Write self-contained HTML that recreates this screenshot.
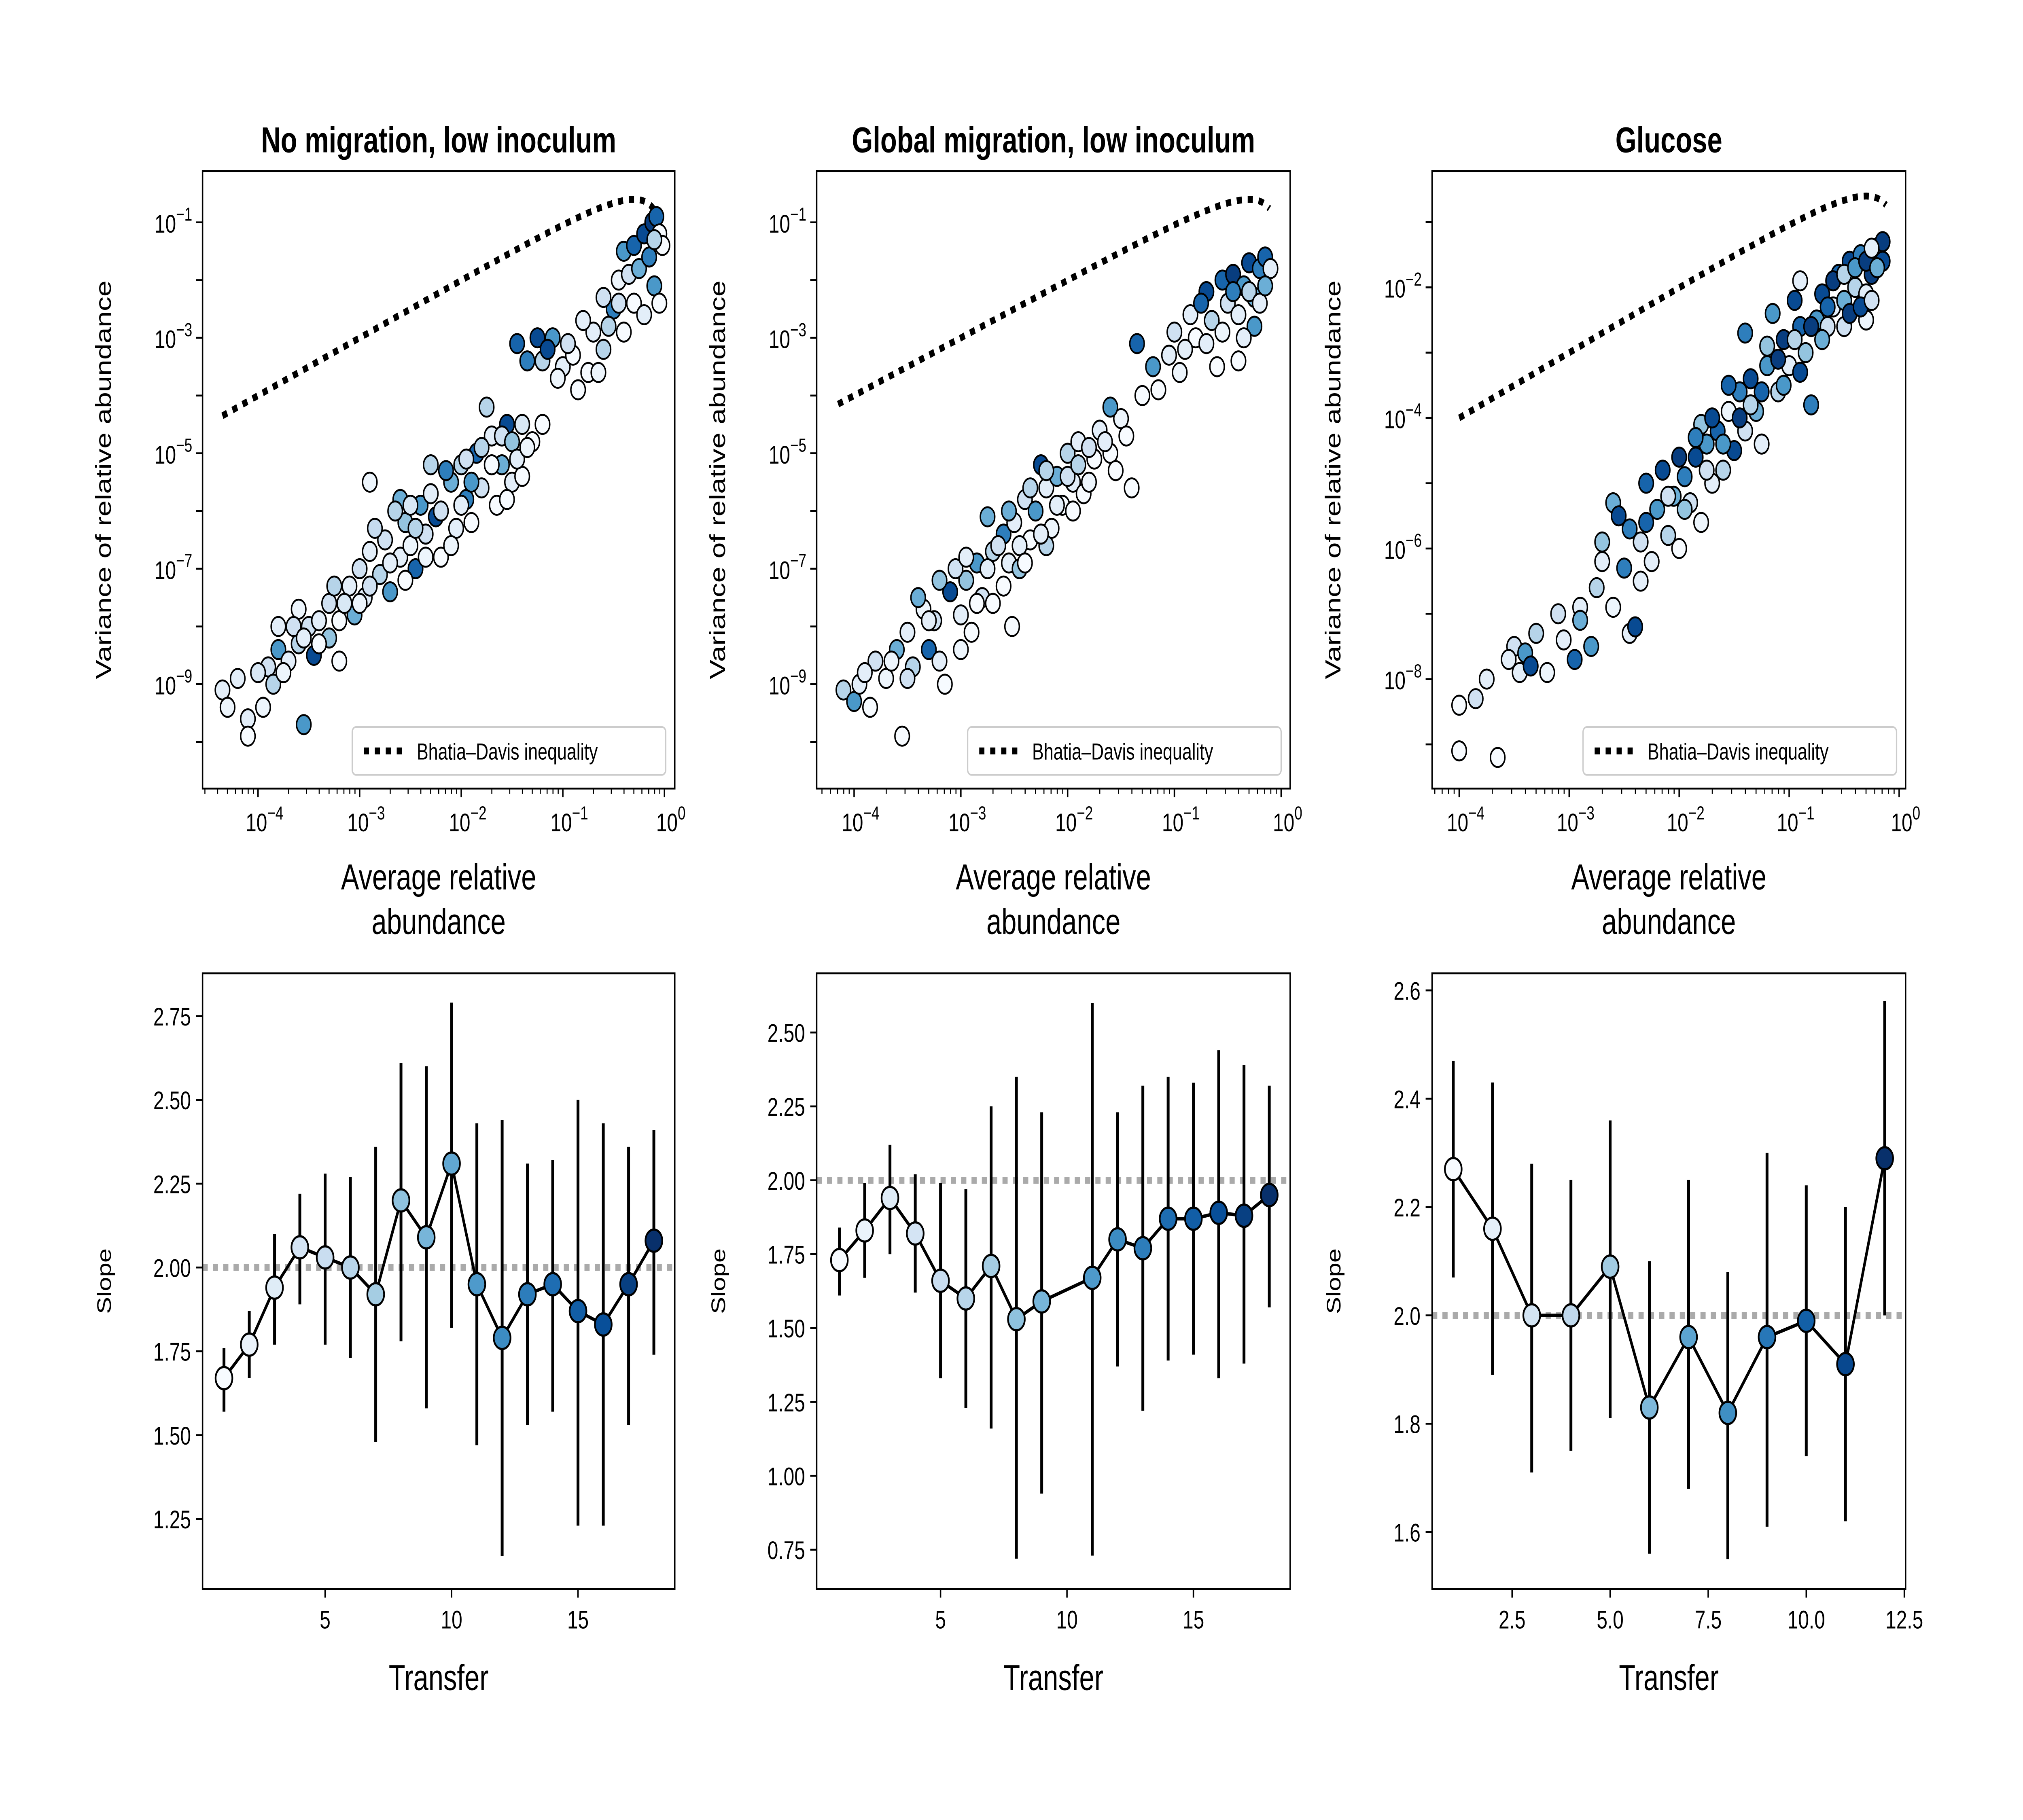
<!DOCTYPE html>
<html><head><meta charset="utf-8">
<style>
html,body{margin:0;padding:0;background:#fff;width:100%;height:100%;overflow:hidden;}
svg{display:block;width:100vw;height:100vh;font-family:"Liberation Sans","DejaVu Sans",sans-serif;}
</style></head>
<body>
<svg id="fig" xmlns="http://www.w3.org/2000/svg" viewBox="0 0 1568 1064" preserveAspectRatio="none">
<rect width="1568" height="1064" fill="#fff"/>
</svg>
<script>
// ---------- DATA ----------
const scatter1 = [[-4.35,-9.1,.1],[-4.3,-9.4,.05],[-4.1,-9.6,.1],[-4.1,-9.9,0],[-3.95,-9.4,.05],[-3.9,-8.7,.2],[-3.85,-9.0,.3],[-3.8,-8.4,.6],[-3.7,-8.6,.1],[-3.6,-8.3,.3],[-3.55,-9.7,.6],[-3.5,-8.0,.2],[-3.45,-8.5,.9],[-3.4,-7.9,.1],[-3.3,-8.2,.4],[-3.3,-7.6,.2],[-3.2,-7.9,0],[-3.1,-7.3,.1],[-3.05,-7.8,.5],[-3.0,-7.0,.2],[-2.95,-7.5,.1],[-2.9,-6.7,.1],[-2.8,-7.1,.3],[-2.75,-6.5,.2],[-2.7,-7.4,.6],[-2.6,-6.8,.1],[-2.55,-6.2,.4],[-2.5,-6.6,.05],[-2.45,-7.0,.8],[-2.4,-5.9,.6],[-2.35,-6.4,.2],[-2.3,-5.7,.1],[-2.25,-6.1,.9],[-2.2,-6.8,0],[-2.1,-5.5,.5],[-2.05,-6.3,.1],[-2.0,-5.2,.3],[-1.95,-5.8,.7],[-1.9,-6.2,0],[-1.85,-5.0,.8],[-1.8,-5.6,.2],[-1.7,-4.7,.1],[-1.65,-5.9,0],[-1.6,-5.2,.5],[-1.55,-4.5,.9],[-1.5,-5.5,.1],[-1.4,-5.4,0],[-1.3,-4.8,0],[-1.45,-3.1,.8],[-1.35,-3.4,.7],[-1.25,-3.0,.9],[-1.2,-3.4,.3],[-1.1,-3.0,.6],[-1.0,-3.5,.1],[-0.9,-3.3,0],[-0.75,-3.6,0],[-0.7,-2.9,.1],[-0.6,-3.2,.3],[-0.5,-2.5,.7],[-0.45,-2.0,.05],[-0.4,-1.5,.6],[-0.35,-1.9,.2],[-0.3,-1.4,.8],[-0.25,-1.8,.5],[-0.2,-1.2,.9],[-0.3,-2.4,0],[-0.2,-2.6,.1],[-0.1,-2.1,.6],[-0.12,-1.0,.95],[-0.08,-0.9,.8],[-0.05,-1.2,0],[-0.02,-1.4,0],[-0.05,-2.4,0],[-0.6,-2.3,.2],[-0.8,-2.7,.1],[-2.9,-5.5,.05],[-2.3,-5.2,.3],[-1.75,-4.2,.3],[-2.6,-5.8,.5],[-3.6,-7.7,.05],
 [-4.2,-8.9,.1],[-4.0,-8.8,.15],[-3.75,-8.8,.05],[-3.65,-8.0,.2],[-3.55,-8.2,.1],[-3.4,-8.3,0],[-3.25,-7.3,.3],[-3.15,-7.6,.15],[-3.0,-7.6,.05],[-2.9,-7.3,.2],[-2.85,-6.3,.25],[-2.7,-6.9,.1],[-2.65,-6.0,.3],[-2.5,-5.9,.15],[-2.45,-6.3,.3],[-2.35,-6.8,.05],[-2.2,-6.0,.2],[-2.15,-5.3,.7],[-2.0,-5.9,.1],[-1.95,-5.1,.2],[-1.9,-5.5,.6],[-1.8,-4.9,.3],[-1.7,-5.2,0],[-1.6,-4.7,.2],[-1.5,-4.8,.4],[-1.45,-5.1,.1],[-1.4,-4.5,.15],[-1.35,-4.9,.05],[-1.2,-4.5,0],[-1.15,-3.2,.9],[-1.05,-3.7,.05],[-0.95,-3.1,.2],[-0.85,-3.9,0],[-0.65,-3.6,.05],[-0.55,-2.8,.3],[-0.45,-2.4,.2],[-0.4,-2.9,0],[-0.15,-1.6,.7],[-0.1,-1.3,.3],[-3.8,-8.0,.1],[-3.2,-8.6,0],[-2.55,-7.2,0],[-2.1,-6.6,.05],[-1.55,-5.8,0]];
const scatter2 = [[-4.1,-9.1,.3],[-4.0,-9.3,.6],[-3.95,-9.0,.1],[-3.85,-9.4,0],[-3.8,-8.6,.2],[-3.7,-8.9,.05],[-3.6,-8.4,.5],[-3.55,-9.9,0],[-3.5,-8.1,.1],[-3.45,-8.7,.3],[-3.35,-7.7,.05],[-3.3,-8.4,.8],[-3.25,-7.9,.2],[-3.15,-9.0,0],[-3.1,-7.4,.9],[-3.0,-7.8,.1],[-2.95,-7.2,.4],[-2.9,-8.1,0],[-2.85,-6.9,.6],[-2.8,-7.5,.2],[-2.75,-6.1,.5],[-2.7,-6.7,.3],[-2.6,-7.3,0],[-2.6,-6.4,.7],[-2.55,-6.9,.1],[-2.5,-6.2,.1],[-2.45,-7.0,.4],[-2.4,-5.8,.2],[-2.35,-6.5,0],[-2.3,-6.0,.6],[-2.25,-5.2,.9],[-2.2,-5.6,.1],[-2.15,-6.3,.05],[-2.1,-5.4,.5],[-2.05,-5.9,0],[-2.0,-5.0,.3],[-1.95,-5.5,.1],[-1.9,-4.8,.1],[-1.85,-5.7,0],[-1.75,-5.1,0],[-1.7,-4.6,.1],[-1.6,-5.0,0],[-1.5,-4.4,.05],[-2.52,-8.0,0],[-1.35,-3.1,.8],[-1.2,-3.5,.6],[-1.05,-3.3,.1],[-0.95,-3.6,.05],[-0.85,-2.6,.1],[-0.8,-3.0,0],[-0.7,-2.2,.9],[-0.65,-2.7,.3],[-0.6,-3.5,0],[-0.55,-2.0,.8],[-0.5,-2.4,.2],[-0.45,-1.9,.95],[-0.4,-2.6,.1],[-0.35,-2.1,.6],[-0.3,-1.7,.9],[-0.25,-2.3,.5],[-0.2,-1.8,.7],[-0.15,-1.6,.8],[-0.1,-1.8,.1],[-0.25,-2.8,.6],[-0.4,-3.4,0],[-1.6,-4.2,.6],[-2.2,-6.6,.3],[-1.3,-4.0,0],[-3.2,-8.6,.1],
 [-3.9,-8.8,.1],[-3.65,-8.6,.05],[-3.5,-8.9,.2],[-3.4,-7.5,.5],[-3.3,-7.9,.1],[-3.2,-7.2,.4],[-3.05,-7.0,.2],[-2.95,-6.8,.1],[-2.85,-7.6,0],[-2.75,-7.0,.1],[-2.65,-6.6,.2],[-2.55,-6.0,.5],[-2.45,-6.6,.1],[-2.4,-6.9,0],[-2.35,-5.6,.3],[-2.25,-6.4,.1],[-2.2,-5.3,.3],[-2.1,-5.9,.1],[-2.0,-5.4,.2],[-1.95,-6.0,0],[-1.9,-5.2,.3],[-1.8,-4.9,.2],[-1.8,-5.5,.05],[-1.65,-4.8,.1],[-1.55,-5.3,0],[-1.45,-4.7,0],[-1.4,-5.6,0],[-1.15,-3.9,0],[-1.0,-2.9,.2],[-0.9,-3.2,.1],[-0.75,-2.4,.8],[-0.7,-3.1,.1],[-0.55,-2.9,.05],[-0.35,-3.0,.1],[-0.3,-2.2,.3],[-0.2,-2.4,.1],[-0.45,-2.2,.7],[-0.15,-2.1,.5],[-3.0,-8.4,.05],[-2.7,-7.6,0]];
const scatter3 = [[-4.0,-8.4,0],[-4.0,-9.1,0],[-3.85,-8.3,.2],[-3.75,-8.0,.1],[-3.65,-9.2,0],[-3.5,-7.5,.2],[-3.45,-7.9,.1],[-3.4,-7.6,.6],[-3.35,-7.8,.9],[-3.3,-7.3,.3],[-3.2,-7.9,.05],[-3.05,-7.4,.1],[-2.95,-7.7,.8],[-2.9,-6.9,.1],[-2.8,-7.5,.6],[-2.75,-6.6,.3],[-2.7,-6.2,.1],[-2.6,-6.9,.05],[-2.5,-6.3,.7],[-2.45,-7.3,.1],[-2.4,-7.2,.9],[-2.35,-5.9,.2],[-2.3,-5.6,.8],[-2.25,-6.2,.1],[-2.2,-5.4,.6],[-2.1,-5.8,.3],[-2.05,-5.2,.5],[-2.0,-6.0,0],[-1.95,-4.9,.7],[-1.9,-5.3,.2],[-1.85,-4.6,.9],[-1.8,-5.6,.05],[-1.75,-4.4,.6],[-1.7,-5.0,.1],[-1.65,-4.2,.8],[-1.6,-4.8,.3],[-1.55,-3.9,.05],[-1.5,-4.5,.9],[-1.45,-3.6,.7],[-1.4,-4.2,.2],[-1.35,-3.4,.9],[-1.3,-3.9,.5],[-1.25,-4.4,.1],[-1.2,-3.2,.6],[-1.1,-3.6,.3],[-1.05,-2.8,.95],[-1.0,-3.2,.1],[-0.9,-2.6,.8],[-0.85,-3.0,.4],[-0.8,-3.8,.7],[-0.75,-2.5,.6],[-0.7,-2.1,.9],[-0.65,-2.6,.2],[-0.6,-2.3,.1],[-0.55,-1.8,.8],[-0.5,-2.2,.5],[-0.45,-1.6,.9],[-0.4,-2.0,.3],[-0.35,-1.5,.7],[-0.3,-2.1,.1],[-0.25,-1.8,.95],[-0.2,-1.4,.8],[-0.15,-1.6,.9],[-0.5,-2.6,.2],[-0.9,-1.9,.1],[-1.4,-2.7,.7],[-0.3,-2.5,.05],[-1.8,-4.1,.4],[-2.6,-5.3,.5],
 [-2.55,-5.5,.9],[-2.45,-5.7,.7],[-2.3,-5.0,.8],[-2.15,-4.8,.9],[-2.1,-5.2,.2],[-2.0,-4.6,.95],[-1.95,-5.4,.4],[-1.85,-4.3,.7],[-1.75,-4.8,.2],[-1.7,-4.0,.9],[-1.6,-4.4,.6],[-1.55,-3.5,.8],[-1.45,-4.0,.95],[-1.35,-3.8,.3],[-1.25,-3.6,.8],[-1.2,-2.9,.4],[-1.1,-3.1,.95],[-1.05,-3.5,.6],[-0.95,-2.8,.3],[-0.9,-3.3,.9],[-0.8,-2.6,.95],[-0.7,-2.8,.5],[-0.65,-2.3,.8],[-0.6,-1.9,.95],[-0.5,-1.8,.3],[-0.45,-2.4,.95],[-0.4,-1.7,.6],[-0.35,-2.3,.9],[-0.3,-1.6,.95],[-0.25,-2.2,.2],[-0.2,-1.7,.5],[-0.15,-1.3,.95],[-0.25,-1.4,.1],[-1.15,-2.4,.6],[-0.95,-2.2,.9],[-2.35,-6.5,.1],[-2.9,-7.1,.5],[-3.1,-7.0,.2],[-2.7,-5.9,.4],[-3.55,-7.7,.1]];

const transfers1 = [1,2,3,4,5,6,7,8,9,10,11,12,13,14,15,16,17,18];
const slope1 = [1.67,1.77,1.94,2.06,2.03,2.00,1.92,2.20,2.09,2.31,1.95,1.79,1.92,1.95,1.87,1.83,1.95,2.08];
const lo1 = [1.57,1.67,1.77,1.89,1.77,1.73,1.48,1.78,1.58,1.82,1.47,1.14,1.53,1.57,1.23,1.23,1.53,1.74];
const hi1 = [1.76,1.87,2.10,2.22,2.28,2.27,2.36,2.61,2.60,2.79,2.43,2.44,2.31,2.32,2.50,2.43,2.36,2.41];
const transfers2 = [1,2,3,4,5,6,7,8,9,11,12,13,14,15,16,17,18];
const slope2 = [1.73,1.83,1.94,1.82,1.66,1.60,1.71,1.53,1.59,1.67,1.80,1.77,1.87,1.87,1.89,1.88,1.95];
const lo2 = [1.61,1.67,1.75,1.62,1.33,1.23,1.16,0.72,0.94,0.73,1.37,1.22,1.39,1.41,1.33,1.38,1.57];
const hi2 = [1.84,1.99,2.12,2.02,1.99,1.97,2.25,2.35,2.23,2.60,2.23,2.32,2.35,2.33,2.44,2.39,2.32];
const transfers3 = [1,2,3,4,5,6,7,8,9,10,11,12];
const slope3 = [2.27,2.16,2.00,2.00,2.09,1.83,1.96,1.82,1.96,1.99,1.91,2.29];
const lo3 = [2.07,1.89,1.71,1.75,1.81,1.56,1.68,1.55,1.61,1.74,1.62,2.00];
const hi3 = [2.47,2.43,2.28,2.25,2.36,2.10,2.25,2.08,2.30,2.24,2.20,2.58];

const titles = ["No migration, low inoculum","Global migration, low inoculum","Glucose"];
const yTicks3 = [1.6,1.8,2.0,2.2,2.4,2.6];
const yTicks1 = [1.25,1.50,1.75,2.00,2.25,2.50,2.75];
const yTicks2 = [0.75,1.00,1.25,1.50,1.75,2.00,2.25,2.50];

// ---------- HELPERS ----------
const NS="http://www.w3.org/2000/svg";
const svg=document.getElementById('fig');
function mk(tag,attrs,parent){const e=document.createElementNS(NS,tag);for(const k in attrs)e.setAttribute(k,attrs[k]);(parent||svg).appendChild(e);return e;}
const stops=[[247,251,255],[222,235,247],[198,219,239],[158,202,225],[107,174,214],[66,146,198],[33,113,181],[8,81,156],[8,48,107]];
function blues(t){t=Math.max(0,Math.min(1,t));const p=t*8,i=Math.min(7,Math.floor(p)),f=p-i;const a=stops[i],b=stops[i+1];return `rgb(${Math.round(a[0]+(b[0]-a[0])*f)},${Math.round(a[1]+(b[1]-a[1])*f)},${Math.round(a[2]+(b[2]-a[2])*f)})`;}
function txt(x,y,s,size,anchor,parent,extra){const t=mk('text',Object.assign({x:x,y:y,'font-size':size,'text-anchor':anchor||'middle',fill:'#000'},extra||{}),parent);t.textContent=s;return t;}
function powLabel(x,y,exp,anchor,parent){const t=mk('text',{x:x,y:y,'font-size':15,'text-anchor':anchor,fill:'#000'},parent);t.appendChild(document.createTextNode('10'));const sp=mk('tspan',{dy:-7,'font-size':11},t);sp.textContent=String(exp).replace('-','\u2212');return t;}

// ---------- TOP PANELS ----------
const topPanels=[
 {x0:157,x1:523,xa:200,xb:515,xmin:-4.55,xmax:0.1,ya:130,yb:400,ea:-1,eb:-9,yTickExps:[-10,-9,-8,-7,-6,-5,-4,-3,-2,-1],yLabelExps:[-9,-7,-5,-3,-1],data:scatter1,bdStart:-4.35},
 {x0:633,x1:1000,xa:662,xb:993,xmin:-4.35,xmax:0.08,ya:130,yb:400,ea:-1,eb:-9,yTickExps:[-10,-9,-8,-7,-6,-5,-4,-3,-2,-1],yLabelExps:[-9,-7,-5,-3,-1],data:scatter2,bdStart:-4.15},
 {x0:1110,x1:1477,xa:1131,xb:1472,xmin:-4.25,xmax:0.07,ya:168,yb:397,ea:-2,eb:-8,yTickExps:[-9,-8,-7,-6,-5,-4,-3,-2,-1],yLabelExps:[-8,-6,-4,-2],data:scatter3,bdStart:-4.0}
];
const yTop=100,yBot=461;
topPanels.forEach((P,pi)=>{
  const g=mk('g',{});  
  const sx=v=>P.xa+(v+4)*(P.xb-P.xa)/4;
  const sy=v=>P.ya+(P.ea-v)*(P.yb-P.ya)/(P.ea-P.eb);
  const clip=mk('clipPath',{id:'c'+pi},g); mk('rect',{x:P.x0,y:yTop,width:P.x1-P.x0,height:yBot-yTop},clip);
  const title=txt((P.x0+P.x1)/2,89,titles[pi],21,'middle',g,{'font-weight':'bold'});
   
  let d='';
  for(let l=P.bdStart;l<=-0.1;l+=0.02){const m=Math.pow(10,l);const v=Math.log10(m*(1-m));d+=(d?'L':'M')+sx(l).toFixed(1)+','+sy(v).toFixed(1);}
  const bd=mk('path',{d:d,fill:'none',stroke:'#000','stroke-width':4,'stroke-dasharray':'4,4.5','clip-path':`url(#c${pi})`},g);
   
  const pts=mk('g',{'clip-path':`url(#c${pi})`},g);
   
  P.data.forEach(p=>{const c=mk('circle',{cx:sx(p[0]),cy:sy(p[1]),r:5.6,fill:blues(p[2]),stroke:'#000','stroke-width':1.1},pts);
     });
  mk('rect',{x:P.x0,y:yTop,width:P.x1-P.x0,height:yBot-yTop,fill:'none',stroke:'#000','stroke-width':1.1},g);
  const xt=mk('g',{},g);  
  for(let e=-5;e<=0;e++){
    for(let k=1;k<10;k++){const l=e+Math.log10(k);if(l<P.xmin||l>P.xmax)continue;const x=sx(l);
      mk('line',{x1:x,x2:x,y1:yBot,y2:yBot+(k==1?5:3),stroke:'#000','stroke-width':k==1?1.1:0.8},xt);
      if(k==1) powLabel(x+5,yBot+25,e,'middle',xt);}
  }
  const xl=txt((P.x0+P.x1)/2,520,'Average relative',21,'middle',g);  
  txt((P.x0+P.x1)/2,546,'abundance',21,'middle',g);
  const yt=mk('g',{},g);  
  P.yTickExps.forEach(e=>{const y=sy(e);if(y<yTop||y>yBot)return;mk('line',{x1:P.x0-5,x2:P.x0,y1:y,y2:y,stroke:'#000','stroke-width':1.1},yt);
    if(P.yLabelExps.includes(e)) powLabel(P.x0-8,y+6,e,'end',yt);});
  const yl=txt(0,0,'Variance of relative abundance',17,'middle',g,{transform:`translate(${P.x0-71},${(yTop+yBot)/2}) rotate(-90)`});
   
  const lg=mk('g',{},g);  
  mk('rect',{x:P.x1-250,y:425,width:243,height:28,rx:3,fill:'#fff',stroke:'#ccc','stroke-width':1},lg);
  mk('line',{x1:P.x1-241,x2:P.x1-210,y1:439,y2:439,stroke:'#000','stroke-width':4,'stroke-dasharray':'4,4.5'},lg);
  txt(P.x1-200,444,'Bhatia\u2013Davis inequality',13.5,'start',lg);
});

// ---------- BOTTOM PANELS ----------
const bTop=569,bBot=929;
const botPanels=[
 {x0:157,x1:523,xv:[5,10],xp:[252,350],xTicks:[5,10,15],xfmt:v=>String(v),yv:[2.0,2.75],yp:[741,594],yTicks:yTicks1,yfmt:v=>v.toFixed(2),t:transfers1,s:slope1,lo:lo1,hi:hi1,ncol:18},
 {x0:633,x1:1000,xv:[5,10],xp:[729,827],xTicks:[5,10,15],xfmt:v=>String(v),yv:[2.0,0.75],yp:[690,906],yTicks:yTicks2,yfmt:v=>v.toFixed(2),t:transfers2,s:slope2,lo:lo2,hi:hi2,ncol:18},
 {x0:1110,x1:1477,xv:[5,10],xp:[1248,1400],xTicks:[2.5,5.0,7.5,10.0,12.5],xfmt:v=>v.toFixed(1),yv:[2.0,2.6],yp:[769,579],yTicks:yTicks3,yfmt:v=>v.toFixed(1),t:transfers3,s:slope3,lo:lo3,hi:hi3,ncol:12}
];
botPanels.forEach((P,pi)=>{
  const g=mk('g',{});  
  const sx=v=>P.xp[0]+(v-P.xv[0])*(P.xp[1]-P.xp[0])/(P.xv[1]-P.xv[0]);
  const sy=v=>P.yp[0]+(v-P.yv[0])*(P.yp[1]-P.yp[0])/(P.yv[1]-P.yv[0]);
  const ref=mk('line',{x1:P.x0,x2:P.x1,y1:sy(2),y2:sy(2),stroke:'#aaa','stroke-width':4,'stroke-dasharray':'4,4'},g);
   
  P.t.forEach((t,i)=>{const e=mk('line',{x1:sx(t),x2:sx(t),y1:sy(P.lo[i]),y2:sy(P.hi[i]),stroke:'#000','stroke-width':2.2},g);
     });
  const d=P.t.map((t,i)=>(i?'L':'M')+sx(t).toFixed(1)+','+sy(P.s[i]).toFixed(1)).join('');
  const ln=mk('path',{d:d,fill:'none',stroke:'#000','stroke-width':2},g);
   
  P.t.forEach((t,i)=>{const c=mk('circle',{cx:sx(t),cy:sy(P.s[i]),r:6.5,fill:blues((t-1)/(P.ncol-1)),stroke:'#000','stroke-width':1.3},g);
     });
  mk('rect',{x:P.x0,y:bTop,width:P.x1-P.x0,height:bBot-bTop,fill:'none',stroke:'#000','stroke-width':1.1},g);
  const xa=mk('g',{},g);  
  P.xTicks.forEach(v=>{const x=sx(v);mk('line',{x1:x,x2:x,y1:bBot,y2:bBot+5,stroke:'#000','stroke-width':1.1},xa);txt(x,bBot+23,P.xfmt(v),15,'middle',xa);});
  const xl=txt((P.x0+P.x1)/2,988,'Transfer',21,'middle',g);  
  const ya=mk('g',{},g);  
  P.yTicks.forEach(v=>{const y=sy(v);mk('line',{x1:P.x0-5,x2:P.x0,y1:y,y2:y,stroke:'#000','stroke-width':1.1},ya);txt(P.x0-9,y+5.5,P.yfmt(v),15,'end',ya);});
  const yl=txt(0,0,'Slope',15,'middle',g,{transform:`translate(${P.x0-71},${(bTop+bBot)/2}) rotate(-90)`});
   
});
</script>
</body></html>
